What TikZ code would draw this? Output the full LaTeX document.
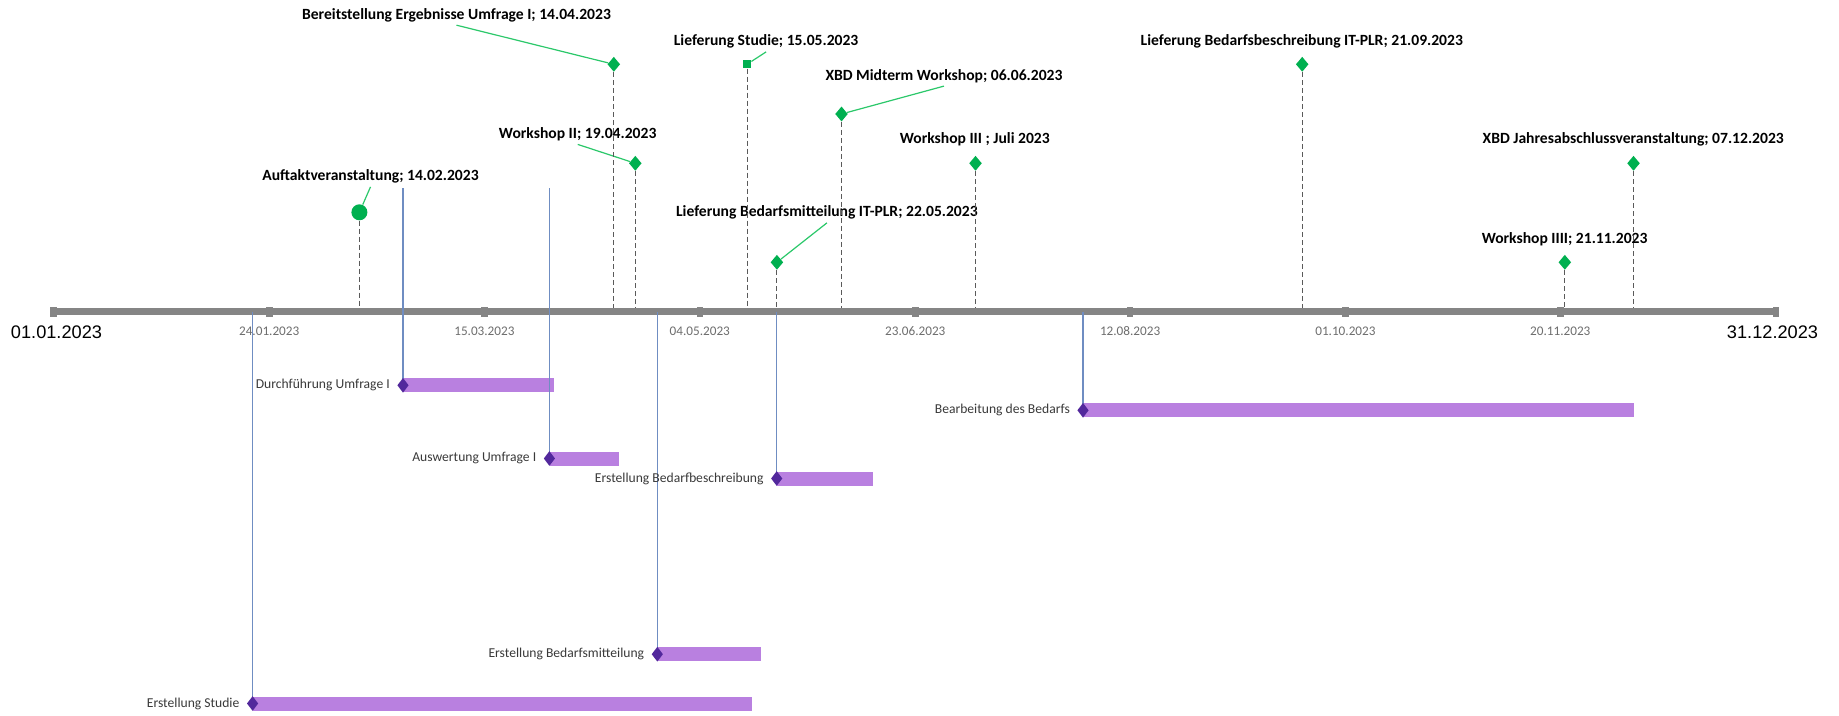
\documentclass[tikz,border=0pt]{standalone}
\usepackage{fontspec}
\setmainfont{Carlito}
\newfontfamily\arialf{Liberation Sans}
\usetikzlibrary{shapes.geometric}
\definecolor{msgreen}{HTML}{00B050}
\definecolor{leadgreen}{HTML}{2BC86A}
\definecolor{axisgray}{HTML}{858585}
\definecolor{dashgray}{HTML}{5A5A5A}
\definecolor{barpurple}{HTML}{B980E0}
\definecolor{darkpurple}{HTML}{52289C}
\definecolor{bluel}{HTML}{6F8DC2}
\definecolor{ticktext}{HTML}{6E6E6E}
\definecolor{bartext}{HTML}{3A3A3A}
\begin{document}
\begin{tikzpicture}[x=0.5pt,y=-0.5pt,
  mslabel/.style={font=\fontsize{7.8}{9}\selectfont\bfseries, text=black, inner sep=1.5pt},
  msdiam/.style={diamond, fill=msgreen, minimum width=6.4pt, minimum height=7.6pt, inner sep=0pt},
  mscirc/.style={circle, fill=msgreen, minimum size=8pt, inner sep=0pt},
  mssq/.style={rectangle, fill=msgreen, minimum size=4pt, inner sep=0pt},
  leader/.style={draw=leadgreen, line width=0.6pt},
  dashln/.style={draw=dashgray, line width=0.5pt, dash pattern=on 2.5pt off 1.5pt},
  axisln/.style={draw=axisgray, line width=3.2pt},
  tickmk/.style={rectangle, fill=axisgray, minimum width=3.3pt, minimum height=5pt, inner sep=0pt},
  ticklbl/.style={font=\fontsize{6.6}{8}\selectfont, text=ticktext, inner sep=0pt},
  datelbl/.style={font=\arialf\fontsize{9.1}{11}\selectfont, text=black, inner sep=0pt},
  barbox/.style={rectangle, fill=barpurple, minimum height=7pt, inner sep=0pt, anchor=west},
  taskdiam/.style={diamond, fill=darkpurple, minimum width=5.75pt, minimum height=7.5pt, inner sep=0pt},
  tasklbl/.style={font=\fontsize{6.8}{8}\selectfont, text=bartext, anchor=east, inner xsep=3.5pt, inner ysep=1pt},
  blueln/.style={draw=bluel, line width=0.6pt}
]
\useasboundingbox (0,0) rectangle (1839,716);
\fill[white] (0,0) rectangle (1839,716);

% axis
\coordinate (axL) at (53.6,311.7);
\coordinate (axR) at (1775.9,311.7);

% milestone markers and labels
\node[mslabel] (l1) at (370.5,176.7) {Auftaktveranstaltung; 14.02.2023};
\node[mscirc] (m1) at (359.4,212.3) {};
\node[mslabel] (l2) at (456.5,15) {Bereitstellung Ergebnisse Umfrage I; 14.04.2023};
\node[msdiam] (m2) at (613.8,64.3) {};
\node[mslabel] (l3) at (577.7,134.3) {Workshop II; 19.04.2023};
\node[msdiam] (m3) at (635.3,163.3) {};
\node[mslabel] (l4) at (766.1,41.7) {Lieferung Studie; 15.05.2023};
\node[mssq] (m4) at (747,64.3) {};
\node[mslabel] (l5) at (944,76) {XBD Midterm Workshop; 06.06.2023};
\node[msdiam] (m5) at (841.5,114) {};
\node[mslabel] (l6) at (974.8,139.3) {Workshop III ; Juli 2023};
\node[msdiam] (m6) at (975.5,163.3) {};
\node[mslabel] (l7) at (826.9,212.7) {Lieferung Bedarfsmitteilung IT-PLR; 22.05.2023};
\node[msdiam] (m7) at (776.9,262.3) {};
\node[mslabel] (l8) at (1301.8,41) {Lieferung Bedarfsbeschreibung IT-PLR; 21.09.2023};
\node[msdiam] (m8) at (1302.2,64.3) {};
\node[mslabel] (l9) at (1633.2,139.3) {XBD Jahresabschlussveranstaltung; 07.12.2023};
\node[msdiam] (m9) at (1633.5,163.3) {};
\node[mslabel] (l10) at (1564.6,239) {Workshop IIII; 21.11.2023};
\node[msdiam] (m10) at (1564.8,262.3) {};

% leaders
\draw[leader] (l1.south) -- (m1);
\draw[leader] (l2.south) -- (m2);
\draw[leader] (l3.south) -- (m3);
\draw[leader] (l4.south) -- (m4);
\draw[leader] (l5.south) -- (m5);
\draw[leader] (l7.south) -- (m7);

% dashed drop lines
\foreach \m in {m1,m2,m3,m4,m5,m6,m7,m8,m9,m10}
  \draw[dashln] (\m) -- (\m |- axL);

% axis line, end caps, ticks
\draw[axisln] (axL) -- (axR);
\node[tickmk] (capL) at (axL) {};
\node[tickmk] (capR) at (axR) {};
\node[tickmk] (t1) at (269.2,311.7) {};
\node[tickmk] (t2) at (484.4,311.7) {};
\node[tickmk] (t3) at (699.8,311.7) {};
\node[tickmk] (t4) at (915.3,311.7) {};
\node[tickmk] (t5) at (1130.1,311.7) {};
\node[tickmk] (t6) at (1345.4,311.7) {};
\node[tickmk] (t7) at (1560.3,311.7) {};
\node[ticklbl] (tl1) at (269.2,331) {24.01.2023};
\node[ticklbl] (tl2) at (484.4,331) {15.03.2023};
\node[ticklbl] (tl3) at (699.8,331) {04.05.2023};
\node[ticklbl] (tl4) at (915.3,331) {23.06.2023};
\node[ticklbl] (tl5) at (1130.1,331) {12.08.2023};
\node[ticklbl] (tl6) at (1345.4,331) {01.10.2023};
\node[ticklbl] (tl7) at (1560.3,331) {20.11.2023};
\node[datelbl] (dstart) at (56.5,332.7) {01.01.2023};
\node[datelbl] (dend) at (1772.5,332.7) {31.12.2023};

% task bars
\node[barbox, minimum width=75.5pt] (b1) at (403,385.3) {};
\node[barbox, minimum width=34.45pt] (b2) at (549.4,458.5) {};
\node[barbox, minimum width=47.95pt] (b3) at (776.7,478.5) {};
\node[barbox, minimum width=275.5pt] (b4) at (1083,410.3) {};
\node[barbox, minimum width=51.65pt] (b5) at (657.3,654.2) {};
\node[barbox, minimum width=249.7pt] (b6) at (252.6,703.5) {};

% blue connector lines
\coordinate (bt1) at (403,188.3);
\coordinate (bt2) at (549.4,188.3);
\draw[blueln] (bt1) -- (b1.west);
\draw[blueln] (bt2) -- (b2.west);
\draw[blueln] (b3.west |- axL) -- (b3.west);
\draw[blueln] (b4.west |- axL) -- (b4.west);
\draw[blueln] (b5.west |- axL) -- (b5.west);
\draw[blueln] (b6.west |- axL) -- (b6.west);

% task diamonds and labels
\node[taskdiam] (d1) at (b1.west) {};
\node[taskdiam] (d2) at (b2.west) {};
\node[taskdiam] (d3) at (b3.west) {};
\node[taskdiam] (d4) at (b4.west) {};
\node[taskdiam] (d5) at (b5.west) {};
\node[taskdiam] (d6) at (b6.west) {};
\node[tasklbl] (k1) at (d1.center) [xshift=-2.9pt] {Durchführung Umfrage I};
\node[tasklbl] (k2) at (d2.center) [xshift=-2.9pt] {Auswertung Umfrage I};
\node[tasklbl] (k3) at (d3.center) [xshift=-2.9pt] {Erstellung Bedarfbeschreibung};
\node[tasklbl] (k4) at (d4.center) [xshift=-2.9pt] {Bearbeitung des Bedarfs};
\node[tasklbl] (k5) at (d5.center) [xshift=-2.9pt] {Erstellung Bedarfsmitteilung};
\node[tasklbl] (k6) at (d6.center) [xshift=-2.9pt] {Erstellung Studie};
\end{tikzpicture}
\end{document}
